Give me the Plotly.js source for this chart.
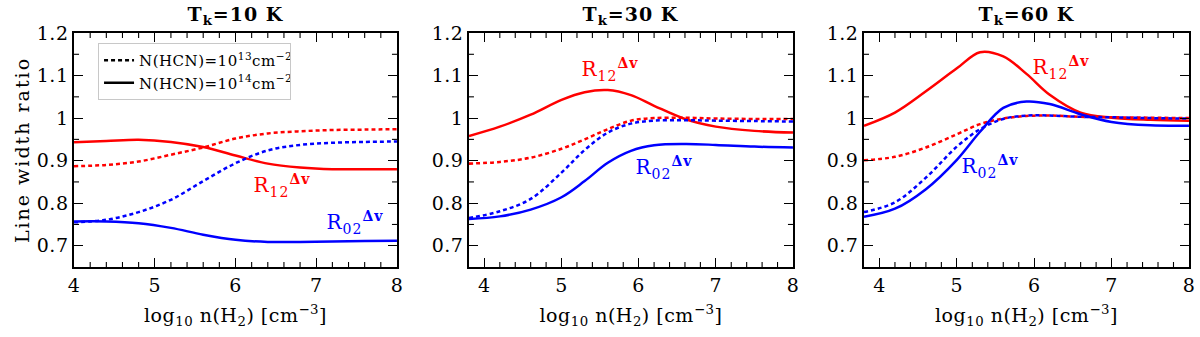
<!DOCTYPE html>
<html>
<head>
<meta charset="utf-8">
<script src="https://cdn.plot.ly/plotly-3.0.1.min.js"></script>
<style>
  body { margin: 0; background: #fff; }
  #myPlot { width: 1200px; height: 337px; }
  #myPlot text { letter-spacing: 0.5px; }
  #myPlot .ytitle { letter-spacing: 2px; }
  #myPlot .annotation-text { letter-spacing: 1px; }
</style>
</head>
<body>
<div id="myPlot"></div>
<script>
// log10 n(H2) sample points for each panel
let x10 = [4, 4.4, 4.8, 5.2, 5.6, 6.0, 6.4, 6.8, 7.2, 7.6, 8];
let x30 = [3.8, 4.2, 4.6, 5.0, 5.3, 5.6, 5.9, 6.2, 6.6, 7.0, 7.5, 8];
let x60 = [3.8, 4.2, 4.6, 5.0, 5.3, 5.6, 5.9, 6.2, 6.6, 7.0, 7.5, 8];

// Tk = 10 K
let r12_13_t10 = [0.887, 0.890, 0.898, 0.914, 0.931, 0.952, 0.964, 0.969, 0.972, 0.973, 0.974];
let r12_14_t10 = [0.943, 0.946, 0.949, 0.944, 0.932, 0.912, 0.893, 0.884, 0.880, 0.880, 0.880];
let r02_13_t10 = [0.755, 0.761, 0.779, 0.808, 0.852, 0.894, 0.924, 0.937, 0.942, 0.944, 0.945];
let r02_14_t10 = [0.757, 0.757, 0.753, 0.742, 0.726, 0.714, 0.709, 0.709, 0.710, 0.711, 0.712];

// Tk = 30 K
let r12_13_t30 = [0.893, 0.897, 0.907, 0.928, 0.950, 0.974, 0.994, 1.000, 1.001, 0.999, 0.998, 0.998];
let r12_14_t30 = [0.958, 0.980, 1.008, 1.043, 1.061, 1.066, 1.054, 1.029, 0.998, 0.980, 0.970, 0.966];
let r02_13_t30 = [0.765, 0.781, 0.810, 0.872, 0.925, 0.966, 0.987, 0.994, 0.995, 0.994, 0.993, 0.992];
let r02_14_t30 = [0.763, 0.769, 0.785, 0.814, 0.852, 0.895, 0.923, 0.936, 0.939, 0.937, 0.933, 0.931];

// Tk = 60 K
let r12_13_t60 = [0.901, 0.909, 0.931, 0.962, 0.986, 0.999, 1.005, 1.006, 1.003, 1.002, 1.001, 1.000];
let r12_14_t60 = [0.982, 1.013, 1.063, 1.117, 1.155, 1.145, 1.104, 1.055, 1.013, 1.001, 0.996, 0.994];
let r02_13_t60 = [0.779, 0.802, 0.860, 0.933, 0.974, 0.998, 1.006, 1.006, 1.003, 1.002, 1.000, 0.999];
let r02_14_t60 = [0.768, 0.787, 0.833, 0.902, 0.968, 1.024, 1.039, 1.033, 1.009, 0.991, 0.983, 0.982];

let panelTitles = ["T<sub>k</sub>=10 K", "T<sub>k</sub>=30 K", "T<sub>k</sub>=60 K"];
let legendNames = ["N(HCN)=10<sup>13</sup>cm<sup>\u22122</sup>", "N(HCN)=10<sup>14</sup>cm<sup>\u22122</sup>"];

// label positions in data units, one per panel
let labelR12 = [[6.58, 0.841], [5.63, 1.114], [6.35, 1.118]];
let labelR02 = [[7.49, 0.754], [6.34, 0.883], [5.43, 0.887]];

const RED = "#ff0000";
const BLUE = "#0000ff";
const FONT = "DejaVu Serif";
const DOT = "4px,3px";
const YDOM = [0.2077, 0.902];
const YRANGE = [0.65, 1.2];
const XLOW = [4, 3.8, 3.8];
const XDOMS = [[0.0617, 0.3308], [0.3908, 0.6608], [0.72, 0.9908]];

function curve(x, y, color, dotted, n) {
    let ax = n == 1 ? "" : String(n);
    return {
        x: x, y: y, mode: "lines", showlegend: false, hoverinfo: "skip",
        xaxis: "x" + ax, yaxis: "y" + ax,
        line: { color: color, width: 2.5, shape: "spline", dash: dotted ? DOT : "solid" }
    };
}

var data = [
    curve(x10, r12_13_t10, RED, true, 1),
    curve(x10, r12_14_t10, RED, false, 1),
    curve(x10, r02_13_t10, BLUE, true, 1),
    curve(x10, r02_14_t10, BLUE, false, 1),
    curve(x30, r12_13_t30, RED, true, 2),
    curve(x30, r12_14_t30, RED, false, 2),
    curve(x30, r02_13_t30, BLUE, true, 2),
    curve(x30, r02_14_t30, BLUE, false, 2),
    curve(x60, r12_13_t60, RED, true, 3),
    curve(x60, r12_14_t60, RED, false, 3),
    curve(x60, r02_13_t60, BLUE, true, 3),
    curve(x60, r02_14_t60, BLUE, false, 3),
    // legend only
    { x: [null], y: [null], mode: "lines", name: legendNames[0], line: { color: "black", width: 2.5, dash: DOT } },
    { x: [null], y: [null], mode: "lines", name: legendNames[1], line: { color: "black", width: 2.5 } }
];

function xAxis(i) {
    return {
        domain: XDOMS[i], range: [XLOW[i], 8], anchor: i == 0 ? "y" : "y" + (i + 1),
        tickmode: "linear", tick0: 4, dtick: 1,
        ticks: "inside", ticklen: 9, tickwidth: 1.3, tickcolor: "black",
        showline: true, linecolor: "black", linewidth: 1.5, mirror: "ticks",
        showgrid: false, zeroline: false,
        tickfont: { family: FONT, size: 19, color: "black" },
        title: { text: "log<sub>10</sub> n(H<sub>2</sub>) [cm<sup>\u22123</sup>]", standoff: 14,
                 font: { family: FONT, size: 19, color: "black" } }
    };
}

function yAxis(i) {
    let ax = {
        domain: YDOM, range: YRANGE, anchor: i == 0 ? "x" : "x" + (i + 1),
        tickmode: "linear", tick0: 0.7, dtick: 0.1,
        ticks: "inside", ticklen: 9, tickwidth: 1.3, tickcolor: "black",
        showline: true, linecolor: "black", linewidth: 1.5, mirror: "ticks",
        showgrid: false, zeroline: false,
        tickfont: { family: FONT, size: 19, color: "black" }
    };
    if (i == 0) {
        ax.title = { text: "Line width ratio", standoff: 4, font: { family: FONT, size: 19, color: "black" } };
    }
    return ax;
}

// minor tick marks as short lines: x ticks use the x scale, y ticks the y scale
var shapes = [];
function tick(xref, yref, x0, x1, y0, y1) {
    shapes.push({ type: "line", xref: xref, yref: yref, x0: x0, x1: x1, y0: y0, y1: y1,
                  layer: "above", line: { color: "black", width: 1.1 } });
}
let hFrac = 5 / 337;
let wFrac = 5 / 1200;
for (let i = 0; i < 3; i++) {
    let ax = i == 0 ? "" : String(i + 1);
    for (let k = Math.round(XLOW[i] * 5) + 1; k < 40; k++) {
        if (k % 5 == 0) continue;
        let v = k / 5;
        tick("x" + ax, "paper", v, v, YDOM[0], YDOM[0] + hFrac);
        tick("x" + ax, "paper", v, v, YDOM[1], YDOM[1] - hFrac);
    }
    for (let k = 14; k < 24; k++) {
        if (k % 2 == 0) continue;
        let v = k / 20;
        tick("paper", "y" + ax, XDOMS[i][0], XDOMS[i][0] + wFrac, v, v);
        tick("paper", "y" + ax, XDOMS[i][1], XDOMS[i][1] - wFrac, v, v);
    }
}

var annotations = [];
let centers = [(74 + 397) / 2400, (469 + 793) / 2400, (864 + 1189) / 2400];
for (let i = 0; i < 3; i++) {
    let ax = i == 0 ? "" : String(i + 1);
    annotations.push({
        text: "<b>" + panelTitles[i] + "</b>", xref: "paper", yref: "paper",
        x: centers[i], y: 0.955, showarrow: false, xanchor: "center", yanchor: "middle",
        font: { family: FONT, size: 19, color: "black" }
    });
    annotations.push({
        text: "R<sub>12</sub><sup><b>\u0394v</b></sup>", xref: "x" + ax, yref: "y" + ax,
        x: labelR12[i][0], y: labelR12[i][1], showarrow: false,
        font: { family: FONT, size: 20, color: RED }
    });
    annotations.push({
        text: "R<sub>02</sub><sup><b>\u0394v</b></sup>", xref: "x" + ax, yref: "y" + ax,
        x: labelR02[i][0], y: labelR02[i][1], showarrow: false,
        font: { family: FONT, size: 20, color: BLUE }
    });
}

var layout = {
    width: 1200, height: 337,
    margin: { l: 0, r: 0, t: 0, b: 0 },
    paper_bgcolor: "white", plot_bgcolor: "white",
    font: { family: FONT, color: "black" },
    xaxis: xAxis(0), xaxis2: xAxis(1), xaxis3: xAxis(2),
    yaxis: yAxis(0), yaxis2: yAxis(1), yaxis3: yAxis(2),
    showlegend: true,
    legend: {
        x: 0.0817, y: 0.8724, xanchor: "left", yanchor: "top",
        bgcolor: "white", bordercolor: "#c8c8c8", borderwidth: 1,
        font: { family: FONT, size: 15, color: "black" }, tracegroupgap: 0
    },
    shapes: shapes,
    annotations: annotations
};

Plotly.newPlot("myPlot", data, layout, { displayModeBar: false });
</script>
</body>
</html>
